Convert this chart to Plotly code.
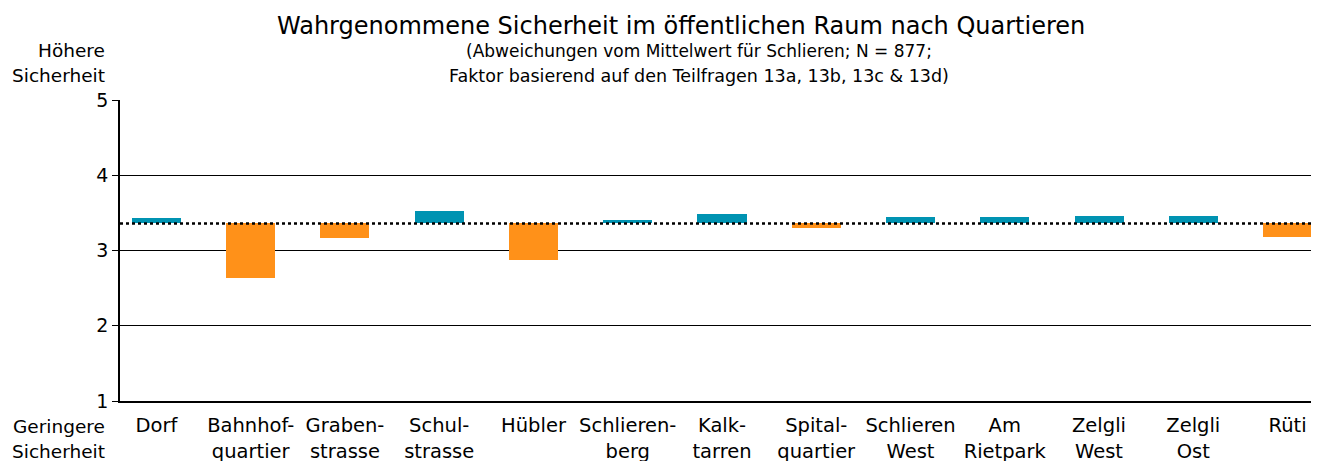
import plotly.graph_objects as go

categories = ["Dorf", "Bahnhof-<br>quartier", "Graben-<br>strasse", "Schul-<br>strasse", "Hübler",
              "Schlieren-<br>berg", "Kalk-<br>tarren", "Spital-<br>quartier", "Schlieren<br>West",
              "Am<br>Rietpark", "Zelgli<br>West", "Zelgli<br>Ost", "Rüti"]
values = [3.43, 2.64, 3.16, 3.52, 2.88, 3.40, 3.49, 3.30, 3.45, 3.45, 3.46, 3.46, 3.18]
mean_value = 3.36
y_ticks = [1, 2, 3, 4, 5]

TEAL = "#0093B2"
ORANGE = "#FF9119"
FONT = "DejaVu Sans"

x_idx = list(range(len(categories)))
deltas = [v - mean_value for v in values]
colors = [TEAL if d >= 0 else ORANGE for d in deltas]

fig = go.Figure()
fig.add_trace(go.Bar(
    x=x_idx, y=deltas, base=mean_value,
    marker=dict(color=colors, line=dict(width=0)),
    width=0.52, hoverinfo="skip",
))

fig.add_shape(type="line", xref="paper", x0=0, x1=1, yref="y", y0=mean_value, y1=mean_value,
              line=dict(color="black", width=2.5, dash="dot"), layer="above")

# the page has an 8px body margin; plot area on the page: x 120..1319, y 100..401
H = 301.0
def py(p):
    return (401 - p) / H

def px(p):
    return (p - 120) / 1199.0

annos = [
    dict(text="Wahrgenommene Sicherheit im öffentlichen Raum nach Quartieren", x=681, y=py(26),
         size=24),
    dict(text="(Abweichungen vom Mittelwert für Schlieren; N = 877;", x=699, y=py(51), size=17),
    dict(text="Faktor basierend auf den Teilfragen 13a, 13b, 13c & 13d)", x=699, y=py(76), size=17.5),
]
for a in annos:
    fig.add_annotation(xref="paper", yref="paper", x=px(a["x"]), y=a["y"],
                       text=a["text"], showarrow=False,
                       font=dict(family=FONT, size=a["size"], color="black"),
                       xanchor="center", yanchor="middle")

for txt, yc in [("Höhere", 51), ("Sicherheit", 76), ("Geringere", 426), ("Sicherheit", 451)]:
    fig.add_annotation(xref="paper", yref="paper", x=px(107), y=py(yc), text=txt,
                       showarrow=False, xanchor="right", yanchor="middle",
                       font=dict(family=FONT, size=18.5, color="black"))

fig.update_layout(
    width=1319, height=461,
    margin=dict(l=112, r=8, t=92, b=68),
    paper_bgcolor="white", plot_bgcolor="white",
    showlegend=False,
    font=dict(family=FONT, size=19, color="black"),
    bargap=0,
)
fig.update_xaxes(
    range=[-0.387, 12.334], tickmode="array", tickvals=x_idx, ticktext=categories,
    showgrid=False, zeroline=False, showline=True, linecolor="black", linewidth=1.5,
    ticks="", tickfont=dict(family=FONT, size=19.5, color="black"), ticklabelstandoff=6,
    automargin=False, fixedrange=True,
)
fig.update_yaxes(
    range=[1, 5], tickmode="array", tickvals=y_ticks, ticktext=[str(t) for t in y_ticks],
    showgrid=True, gridcolor="black", gridwidth=1.3, zeroline=False,
    showline=True, linecolor="black", linewidth=1.5,
    ticks="outside", ticklen=6, tickcolor="black", tickwidth=1.3,
    tickfont=dict(family=FONT, size=19, color="black"), automargin=False, fixedrange=True,
)

fig.write_html("out.html")
